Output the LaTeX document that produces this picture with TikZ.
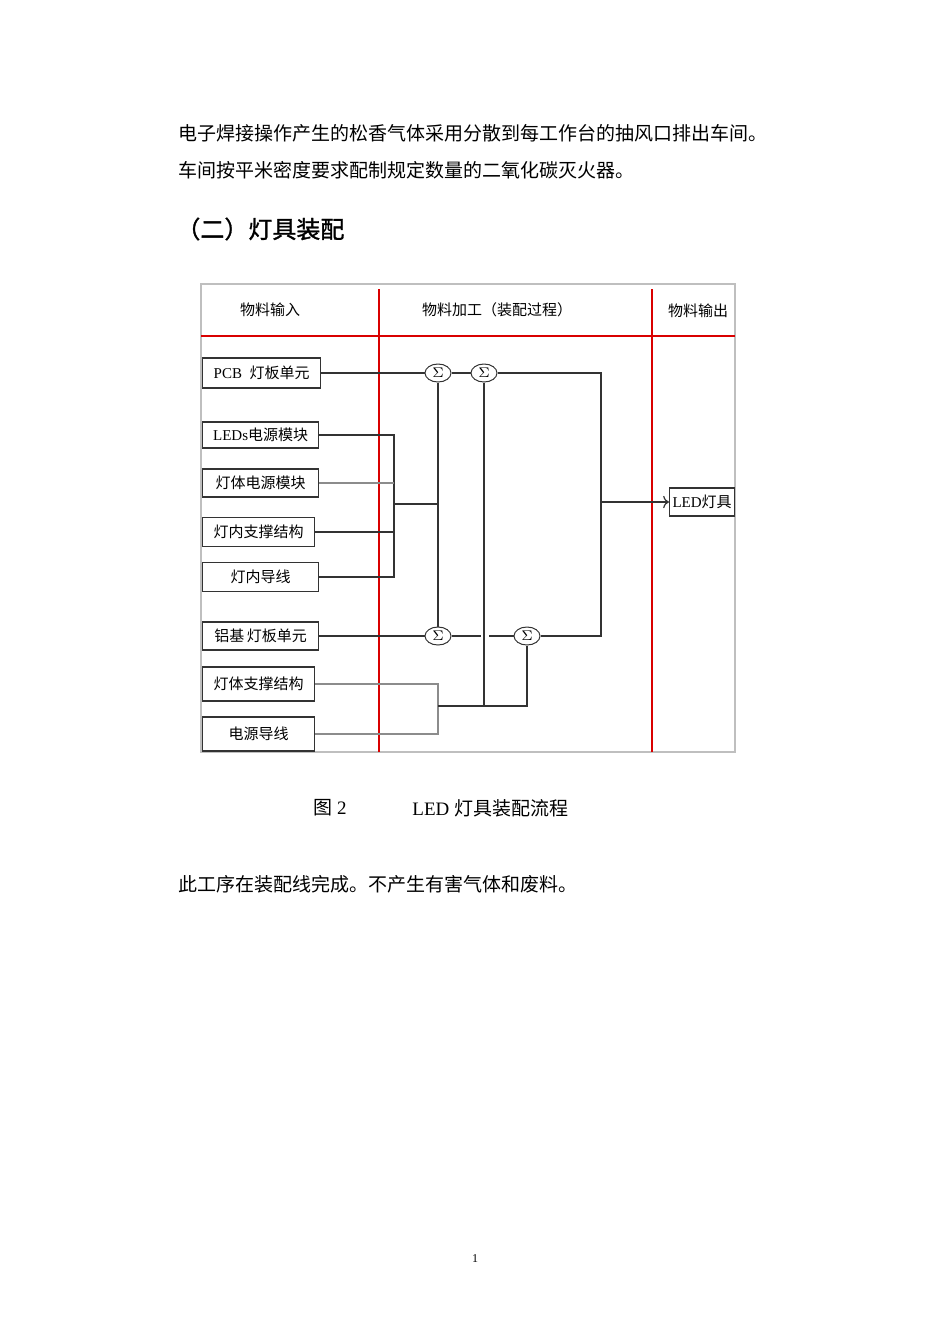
\documentclass[tikz,border=0pt]{standalone}
\usepackage{fontspec}
\setmainfont{Liberation Serif}
\newfontfamily\zh{Noto Sans CJK SC}
\newfontfamily\zhhead[FakeBold=1.2]{Noto Sans CJK SC}
\usetikzlibrary{arrows.meta}
\usetikzlibrary{shapes.geometric}

\tikzset{
    inbox/.style={
        rectangle,
        draw=black!80,
        line width=0.6pt,
        inner sep=0pt,
        anchor=west,
        font=\fontsize{7.5}{9}\selectfont},
    sumnode/.style={
        ellipse,
        draw=black!80,
        line width=0.5pt,
        fill=white,
        inner sep=0pt,
        minimum width=13pt,
        minimum height=9pt,
        font=\fontsize{7}{8}\selectfont},
    headtext/.style={
        font=\zh\fontsize{7.5}{9}\selectfont},
    bodytext/.style={
        anchor=west,
        inner sep=0pt,
        font=\zh\fontsize{9.5}{11}\selectfont},
    wire/.style={
        draw=black!80,
        line width=0.6pt},
    softwire/.style={
        draw=black!45,
        line width=0.6pt},
    redline/.style={
        draw=red!85!black,
        line width=0.6pt}
}

\begin{document}
\begin{tikzpicture}[x=0.5pt, y=-0.5pt]
    \fill[white] (0,0) rectangle (950,1344);
    \useasboundingbox (0,0) rectangle (950,1344);

    \node[bodytext] (para1) at (178,133) {电子焊接操作产生的松香气体采用分散到每工作台的抽风口排出车间。};
    \node[bodytext] (para2) at (178,170) {车间按平米密度要求配制规定数量的二氧化碳灭火器。};
    \node[
        bodytext,
        font=\zhhead\fontsize{12}{14}\selectfont]
        (title) at (176,229) {（二）灯具装配};

    \draw[black!25, line width=0.6pt] (201,284) rectangle (735,752);
    \draw[redline] (379,289) -- (379,752);
    \draw[redline] (652,289) -- (652,752);
    \draw[redline] (201,336) -- (735,336);

    \node[headtext] (colin) at (270,310) {物料输入};
    \node[headtext] (colproc) at (497,310) {物料加工（装配过程）};
    \node[headtext] (colout) at (698,311) {物料输出};

    \node[
        inbox,
        minimum width=59pt,
        minimum height=15pt]
        (pcb) at (202,373) {PCB\ \ {\zh 灯板单元}};
    \node[
        inbox,
        minimum width=58pt,
        minimum height=13pt]
        (leds) at (202,435) {LEDs{\zh 电源模块}};
    \node[
        inbox,
        minimum width=58pt,
        minimum height=14pt]
        (bodypwr) at (202,483) {\zh 灯体电源模块};
    \node[
        inbox,
        minimum width=56pt,
        minimum height=14.5pt]
        (innsup) at (202,532) {\zh 灯内支撑结构};
    \node[
        inbox,
        minimum width=58pt,
        minimum height=14.5pt]
        (innwire) at (202,577) {\zh 灯内导线\hspace{6pt}};
    \node[
        inbox,
        minimum width=58pt,
        minimum height=14pt]
        (albase) at (202,636) {\zh 铝基\,灯板单元};
    \node[
        inbox,
        minimum width=56pt,
        minimum height=17pt]
        (bodysup) at (202,684) {\zh 灯体支撑结构};
    \node[
        inbox,
        minimum width=56pt,
        minimum height=17pt]
        (pwrwire) at (202,734) {\zh 电源导线};
    \node[
        inbox,
        minimum width=32.5pt,
        minimum height=14pt]
        (lamp) at (669,502) {LED{\zh 灯具}};

    \node[sumnode] (sum1) at (438,373) {$\Sigma$};
    \node[sumnode] (sum2) at (484,373) {$\Sigma$};
    \node[sumnode] (sum3) at (438,636) {$\Sigma$};
    \node[sumnode] (sum4) at (527,636) {$\Sigma$};

    \coordinate (join1) at (394,504);
    \coordinate (join2) at (438,706);
    \coordinate (join3) at (601,502);
    \coordinate (hopa) at (481,636);
    \coordinate (hopb) at (489,636);

    \draw[wire] (pcb.east) -- (sum1.west);
    \draw[wire] (sum1.east) -- (sum2.west);
    \draw[wire] (leds.east) -| (join1);
    \draw[softwire] (bodypwr.east) -- (bodypwr.east -| join1);
    \draw[wire] (innsup.east) -- (innsup.east -| join1);
    \draw[wire] (innwire.east) -| (join1);
    \draw[wire] (join1) -- (join1 -| sum1);
    \draw[wire] (sum1.south) -- (sum3.north);
    \draw[wire] (albase.east) -- (sum3.west);
    \draw[wire] (sum3.east) -- (hopa);
    \draw[wire] (hopb) -- (sum4.west);
    \draw[softwire] (bodysup.east) -| (join2);
    \draw[softwire] (pwrwire.east) -| (join2);
    \draw[wire] (join2) -| (sum4.south);
    \draw[wire] (sum2.south) -- (sum2 |- join2);
    \draw[wire] (sum2.east) -| (join3) |- (sum4.east);
    \draw[wire, ->] (join3) -- (lamp.west);

    \node[bodytext, font=\fontsize{9.5}{11}\selectfont] (capnum) at (313,808) {{\zh 图}\ 2};
    \node[bodytext, font=\fontsize{9.5}{11}\selectfont] (captext) at (412,808) {LED {\zh 灯具装配流程}};
    \node[bodytext] (para3) at (178,884) {此工序在装配线完成。不产生有害气体和废料。};
    \node[font=\fontsize{6}{7}\selectfont] (pagenum) at (475,1259) {1};
\end{tikzpicture}
\end{document}
